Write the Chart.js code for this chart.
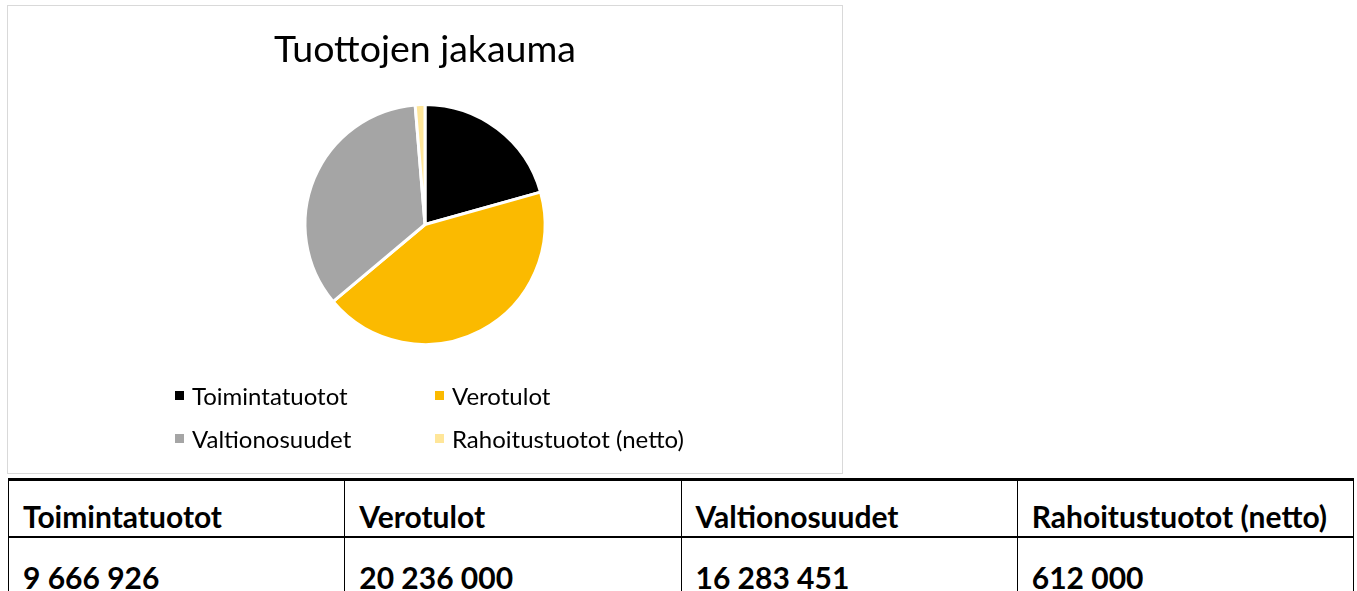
<!DOCTYPE html>
<html>
<head>
<meta charset="utf-8">
<script src="https://cdn.jsdelivr.net/npm/chart.js@4/dist/chart.umd.min.js"></script>
<style>
  html, body { margin:0; padding:0; background:#fff; width:1357px; height:591px; overflow:hidden; font-family:'Lato', sans-serif; }
  #chartBox { position:absolute; left:7px; top:5px; width:834px; height:467px; border:1px solid #d9d9d9; }
  #chartBox canvas { position:absolute; left:0; top:0; }
  #legend { position:absolute; left:167px; top:368px; display:grid; grid-template-columns:260px 260px; }
  .lg-item { display:flex; align-items:center; height:43px; font-size:24px; color:#000; }
  .lg-box { width:9px; height:9px; margin-right:8px; }
  #valTable { position:absolute; left:8px; top:478px; width:1346px; border-collapse:collapse; table-layout:fixed; }
  #valTable td { border:1px solid #000; font-weight:bold; font-size:30px; color:#000; padding:0 0 3px 14px; vertical-align:bottom; height:57px; white-space:nowrap; line-height:36px; }
  #valTable tr:first-child td { border-top:3px solid #000; border-bottom:2px solid #000; height:53px; padding-bottom:2px; }
</style>
</head>
<body>
<div id="chartBox">
  <canvas id="pie" width="834" height="467"></canvas>
  <div id="legend"></div>
</div>
<table id="valTable"><tr id="hdrRow"></tr><tr id="valRow"></tr></table>
<script>
// Tuottojen jakauma — piirakka + taulukko

const chartTitle = 'Tuottojen jakauma';
const categories = ['Toimintatuotot', 'Verotulot', 'Valtionosuudet', 'Rahoitustuotot (netto)'];
const values     = [9666926, 20236000, 16283451, 612000];
const colors     = ['#000000', '#fbba00', '#a5a5a5', '#ffe699'];

const fmtNum = v => String(v).replace(/\B(?=(\d{3})+(?!\d))/g, ' ');

const pieChart = new Chart(document.getElementById('pie'), {
  type: 'pie',
  data: {
    labels: categories,
    datasets: [{
      data: values,
      backgroundColor: colors,
      borderColor: '#ffffff',
      borderWidth: 3,
    }],
  },
  options: {
    responsive: false, animation: false,
    layout: { padding: { top: 0, bottom: 127, left: 0, right: 0 } },
    plugins: {
      title: {
        display: true, text: chartTitle, color: '#000',
        font: { family: 'Lato', size: 37.5, weight: 'normal' },
        padding: { top: 21, bottom: 31 },
      },
      legend: { display: false },
      tooltip: { enabled: false },
    },
  },
});

// legenda 2x2 kaavion omista legendItems-tiedoista
document.getElementById('legend').innerHTML = pieChart.options.plugins.legend.labels
  .generateLabels(pieChart)
  .map(it => `<div class="lg-item"><span class="lg-box" style="background:${it.fillStyle}"></span>${it.text}</div>`)
  .join('');

document.getElementById('hdrRow').innerHTML = categories.map(c => `<td>${c}</td>`).join('');
document.getElementById('valRow').innerHTML = values.map(v => `<td>${fmtNum(v)}</td>`).join('');
</script>
</body>
</html>
